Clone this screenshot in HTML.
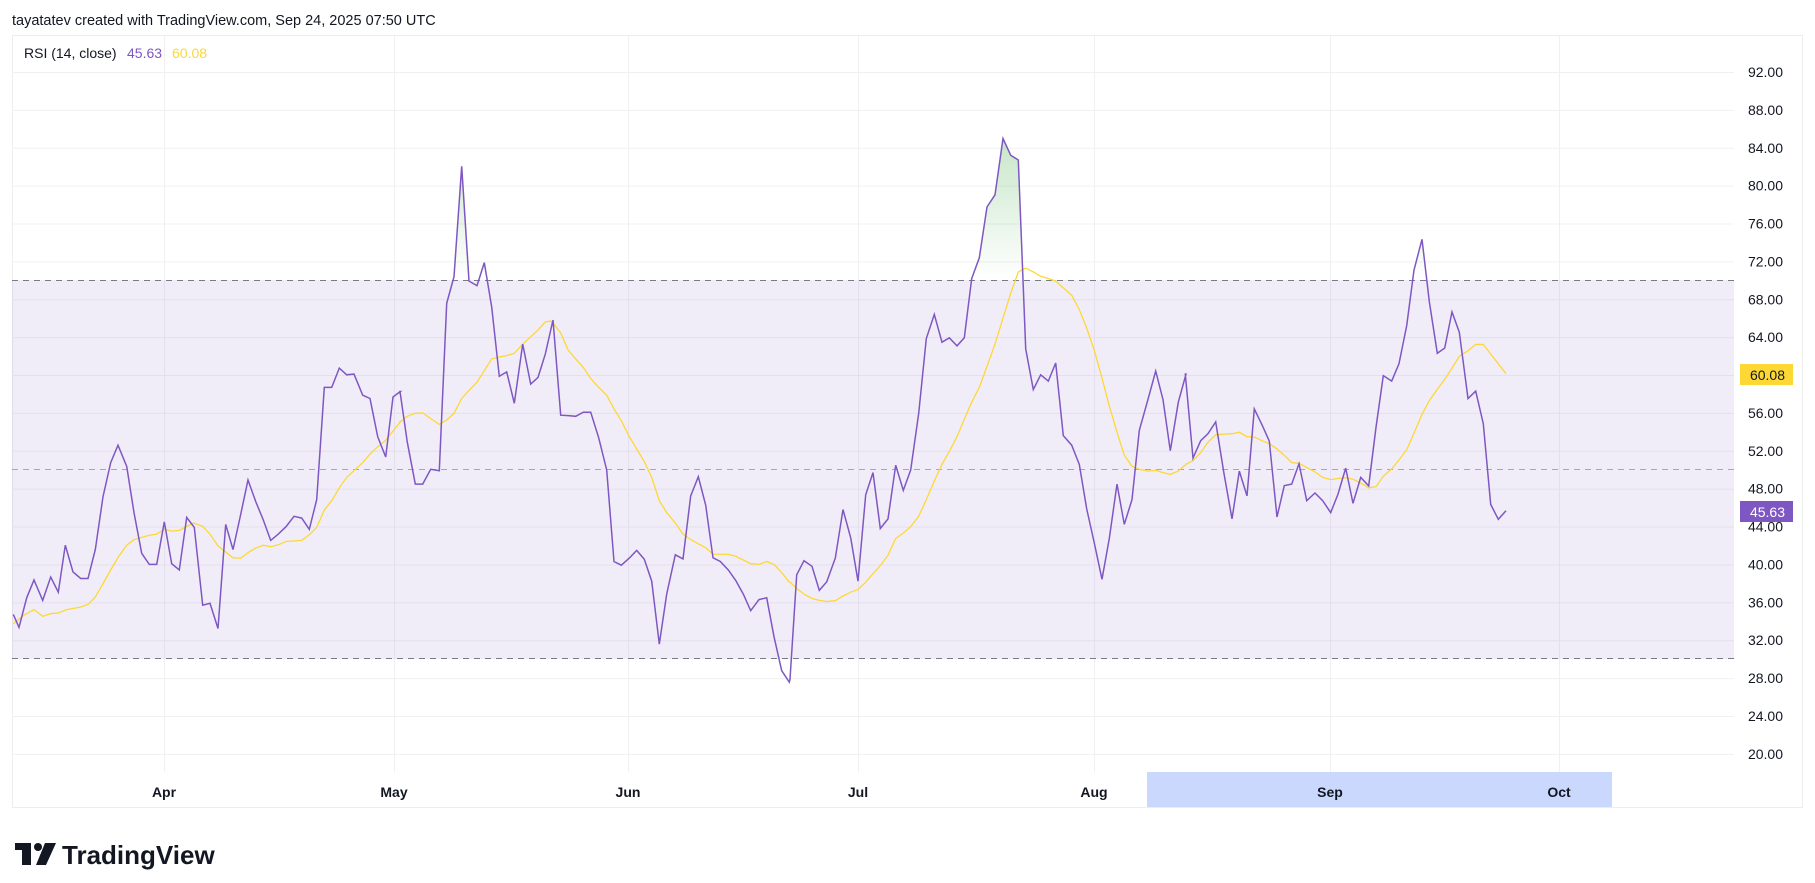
<!DOCTYPE html>
<html><head><meta charset="utf-8"><style>
html,body{margin:0;padding:0;background:#fff;width:1815px;height:883px;overflow:hidden;font-family:"Liberation Sans",sans-serif;}
svg{position:absolute;left:0;top:0}
</style></head><body>
<svg id="s" width="1815" height="883" xmlns="http://www.w3.org/2000/svg">
<defs>
<linearGradient id="g" x1="0" y1="0" x2="0" y2="1" gradientUnits="userSpaceOnUse" x1v="0">
</linearGradient>
<linearGradient id="gf" gradientUnits="userSpaceOnUse" x1="0" y1="120" x2="0" y2="280">
<stop offset="0" stop-color="#4caf50" stop-opacity="0.35"/>
<stop offset="1" stop-color="#4caf50" stop-opacity="0"/>
</linearGradient>
<clipPath id="above"><rect x="0" y="0" width="1815" height="280"/></clipPath>
</defs>
<text x="12" y="25" font-size="14.5" fill="#131722">tayatatev created with TradingView.com, Sep 24, 2025 07:50 UTC</text>
<rect x="12.5" y="35.5" width="1790" height="772" fill="#fff" stroke="#ededed"/>
<g id="grid"></g>
<rect x="12" y="280" width="1722" height="379" fill="#7e57c2" fill-opacity="0.11"/>
<g id="hl"></g>
<line x1="12" x2="1734" y1="280.5" y2="280.5" stroke="#787b86" stroke-dasharray="6,5"/>
<line x1="12" x2="1734" y1="469.5" y2="469.5" stroke="#a9a4b8" stroke-dasharray="6,5"/>
<line x1="12" x2="1734" y1="658.5" y2="658.5" stroke="#787b86" stroke-dasharray="6,5"/>
<path id="fill" clip-path="url(#above)" fill="url(#gf)"/>
<polyline id="ma" fill="none" stroke="#fdd835" stroke-width="1.3"/>
<polyline id="rsi" fill="none" stroke="#7e57c2" stroke-width="1.5"/>
<text x="24" y="58" font-size="14" fill="#131722">RSI (14, close)</text>
<text x="127" y="58" font-size="14" fill="#7e57c2">45.63</text>
<text x="172" y="58" font-size="14" fill="#fdd835">60.08</text>
<rect x="1147" y="772" width="465" height="35" fill="#c9d8fc"/>
<g id="xl" font-size="14" font-weight="bold" fill="#131722" text-anchor="middle"></g>
<g id="yl" font-size="14" fill="#131722" text-anchor="end"></g>
<rect x="1740" y="364" width="53" height="21" fill="#fdd835"/>
<text x="1785" y="380" font-size="14" fill="#131722" text-anchor="end">60.08</text>
<rect x="1740" y="501" width="53" height="21" fill="#7e57c2"/>
<text x="1785" y="517" font-size="14" fill="#fff" text-anchor="end">45.63</text>
<g fill="#131722">
<rect x="15" y="843" width="16" height="7"/><rect x="22" y="843" width="9" height="22"/>
<circle cx="38" cy="847" r="4"/>
<polygon points="45,843 56,843 46,865 36,865"/>
</g>
<text x="62" y="864" font-size="26" font-weight="bold" fill="#131722">TradingView</text>
</svg>
<script>
function Y(v){return 72+(92-v)*9.47;}
var g=document.getElementById('grid'),out='';
for(var v=20;v<=96;v+=4){var y=Y(v);if(y<36)continue;out+='<line x1="12" x2="1734" y1="'+(y+.5)+'" y2="'+(y+.5)+'" stroke="#f0f0f3"/>';}
var mx=[[164,'Apr'],[394,'May'],[628,'Jun'],[858,'Jul'],[1094,'Aug'],[1330,'Sep'],[1559,'Oct']];
mx.forEach(function(m){out+='<line x1="'+(m[0]+.5)+'" x2="'+(m[0]+.5)+'" y1="36" y2="772" stroke="#f0f0f3"/>';});
g.innerHTML=out;
var xl='';mx.forEach(function(m){xl+='<text x="'+m[0]+'" y="797">'+m[1]+'</text>';});
document.getElementById('xl').innerHTML=xl;
var yl='';for(var v=20;v<=92;v+=4){if(v==60||v==44)continue;yl+='<text x="1783" y="'+(Y(v)+5)+'">'+v.toFixed(2)+'</text>';}
yl+='<text x="1783" y="'+(Y(44)+5)+'">44.00</text>';
document.getElementById('yl').innerHTML=yl;
function conv(cx,a){return a.map(function(p){return [cx+p[0]/3,120+p[1]/2.7];});}
var R=[].concat(
conv(10,[[10,1335],[27,1370],[50,1290],[72,1242],[98,1297],[122,1234],[145,1275],[166,1148],[189,1220],[212,1238],[234,1238],[256,1160],[279,1017],[302,925],[324,878],[350,935],[372,1060],[395,1170],[418,1200],[440,1200],[463,1085],[485,1198],[508,1215],[530,1073],[553,1100],[578,1310],[600,1305],[624,1373],[647,1092],[669,1160],[692,1065],[714,972],[737,1030],[760,1080],[782,1135],[805,1118],[828,1098],[852,1070],[875,1075],[898,1105],[920,1025],[943,722],[965,722],[988,670],[1010,688],[1032,686],[1058,743],[1080,752],[1103,855],[1127,910],[1149,748],[1171,733]]),
conv(400,[[0,733],[22,870],[46,983],[68,983],[92,943],[118,947],[140,495],[162,423],[185,125],[207,435],[231,447],[253,385],[275,505],[298,692],[320,680],[343,765],[368,605],[392,713],[414,695],[436,632],[459,540],[482,797],[505,798],[527,800],[550,789],[572,789],[596,858],[620,945],[642,1192],[664,1202],[688,1183],[710,1162],[733,1186],[755,1245],[778,1415],[800,1280],[826,1174],[849,1185],[872,1015],[895,963],[917,1040],[939,1182],[961,1192],[985,1215],[1007,1243],[1030,1280],[1052,1325],[1077,1295],[1100,1290],[1122,1395],[1145,1487],[1168,1518]]),
conv(790,[[0,1510],[20,1228],[42,1190],[66,1205],[88,1270],[110,1247],[136,1183],[159,1052],[182,1128],[204,1245],[227,1012],[249,952],[271,1103],[294,1077],[317,932],[340,1000],[362,945],[386,792],[409,590],[433,525],[456,600],[478,588],[501,610],[523,588],[545,428],[568,372],[591,235],[615,202],[639,50],[662,95],[685,108],[707,618],[730,728],[752,688],[775,705],[797,656],[820,852],[845,878],[868,930],[890,1050],[913,1142],[936,1240],[958,1130],[981,983],[1003,1092],[1026,1025],[1048,838],[1073,757],[1097,678],[1119,755],[1141,893],[1165,762],[1188,686]]),
conv(1180,[[16,686],[39,913],[62,866],[84,847],[107,815],[131,950],[156,1077],[178,948],[201,1015],[223,780],[246,823],[268,867],[291,1072],[313,987],[335,983],[357,928],[380,1028],[405,1007],[428,1028],[452,1060],[474,1010],[497,940],[519,1035],[542,965],[566,988],[588,830],[610,690],[635,705],[657,658],[680,555],[702,405],[726,322],[748,490],[772,630],[794,616],[816,518],[838,573],[864,752],[887,732],[910,820],[932,1038],[955,1078],[978,1055]]));
var M=[].concat(
conv(10,[[10,1360],[40,1338],[72,1322],[98,1340],[122,1333],[145,1331],[170,1322],[212,1315],[234,1308],[256,1288],[279,1252],[302,1215],[325,1180],[350,1148],[372,1133],[418,1121],[440,1118],[463,1105],[485,1110],[508,1108],[550,1088],[578,1097],[600,1118],[624,1150],[669,1182],[692,1183],[714,1168],[737,1156],[760,1148],[782,1152],[805,1147],[828,1138],[875,1135],[898,1120],[920,1100],[943,1053],[965,1028],[988,993],[1010,965],[1058,925],[1080,902],[1103,882],[1127,865],[1149,840],[1171,815]]),
conv(400,[[0,815],[22,800],[46,792],[68,791],[92,806],[118,822],[140,810],[162,792],[185,752],[207,730],[231,708],[253,677],[275,645],[298,640],[320,636],[343,630],[368,605],[392,585],[414,567],[436,545],[452,543],[459,548],[482,575],[505,622],[527,645],[550,668],[572,698],[596,722],[620,743],[642,780],[664,812],[688,855],[710,888],[733,922],[755,965],[778,1028],[800,1060],[826,1088],[849,1118],[872,1133],[917,1155],[939,1172],[985,1173],[1007,1178],[1030,1188],[1052,1198],[1077,1200],[1100,1192],[1122,1200],[1145,1222],[1168,1248]]),
conv(790,[[0,1248],[20,1265],[42,1280],[66,1292],[88,1297],[110,1300],[136,1298],[159,1285],[182,1275],[204,1268],[227,1248],[249,1225],[271,1203],[294,1175],[317,1130],[340,1115],[362,1098],[386,1070],[409,1025],[433,975],[456,930],[478,895],[501,855],[523,808],[545,762],[568,722],[591,665],[615,605],[639,535],[662,468],[685,410],[707,400],[730,410],[752,422],[775,428],[797,435],[820,453],[845,473],[868,512],[890,562],[913,622],[936,697],[958,772],[981,843],[1003,905],[1026,935],[1048,943],[1073,948],[1097,946],[1119,952],[1141,957],[1165,948],[1188,930]]),
conv(1180,[[16,930],[39,920],[62,898],[84,870],[107,850],[131,848],[156,847],[178,843],[201,855],[223,856],[246,866],[268,874],[291,888],[313,905],[335,925],[357,927],[380,938],[405,950],[428,965],[452,971],[474,968],[497,966],[519,970],[542,980],[566,993],[588,990],[610,962],[635,942],[657,918],[680,890],[702,845],[726,795],[748,758],[772,727],[794,700],[816,670],[838,638],[864,623],[887,606],[910,606],[932,632],[955,658],[978,685]]));
function pts(a){return a.map(function(p){return p[0].toFixed(1)+','+p[1].toFixed(1);}).join(' ');}
document.getElementById('rsi').setAttribute('points',pts(R));
document.getElementById('ma').setAttribute('points',pts(M));
var d='M'+R[0][0]+',280 '+R.map(function(p){return 'L'+p[0].toFixed(1)+','+p[1].toFixed(1);}).join(' ')+' L'+R[R.length-1][0]+',280 Z';
document.getElementById('fill').setAttribute('d',d);
</script>
</body></html>
